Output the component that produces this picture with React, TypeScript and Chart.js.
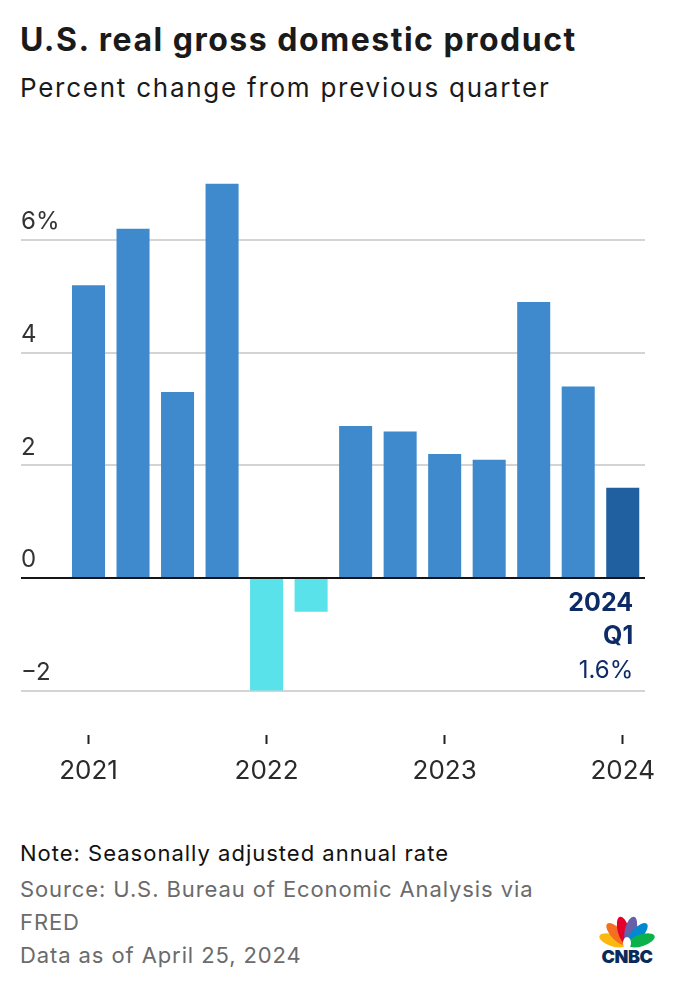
import React, { useEffect, useRef } from 'react';
import { Chart, registerables } from 'chart.js';

Chart.register(...registerables);

// ---- Data ----
const quarters = [
  'Q1 2021', 'Q2 2021', 'Q3 2021', 'Q4 2021',
  'Q1 2022', 'Q2 2022', 'Q3 2022', 'Q4 2022',
  'Q1 2023', 'Q2 2023', 'Q3 2023', 'Q4 2023',
  'Q1 2024',
];
const gdpChange = [5.2, 6.2, 3.3, 7.0, -2.0, -0.6, 2.7, 2.6, 2.2, 2.1, 4.9, 3.4, 1.6];
const yTickValues = [-2, 0, 2, 4, 6];
const latestAnnotation = ['2024', 'Q1', '1.6%'];

const FONT = 'Inter, "Noto Sans", sans-serif';
const BLUE = '#3f8acc';
const CYAN = '#5ae2ea';
const DARK = '#2160a0';
const NAVY = '#0d2b66';

const barColors = gdpChange.map((v, i) =>
  i === gdpChange.length - 1 ? DARK : v < 0 ? CYAN : BLUE
);

const overlayPlugin = {
  id: 'overlay',
  afterDatasetsDraw(chart: any) {
    const { ctx, chartArea, scales } = chart;
    const y = scales.y;
    const y0 = y.getPixelForValue(0);
    ctx.save();
    ctx.strokeStyle = '#151515';
    ctx.lineWidth = 2;
    ctx.beginPath();
    ctx.moveTo(y.left, y0);
    ctx.lineTo(chartArea.right, y0);
    ctx.stroke();

    const meta = chart.getDatasetMeta(0);
    const bar = meta.data[meta.data.length - 1];
    const xr = bar.x + 10.5;
    ctx.fillStyle = NAVY;
    ctx.textAlign = 'right';
    ctx.textBaseline = 'middle';
    ctx.font = `bold 25px ${FONT}`;
    ctx.fillText(latestAnnotation[0], xr, y0 + 26);
    ctx.fillText(latestAnnotation[1], xr, y0 + 59);
    ctx.font = `24px ${FONT}`;
    ctx.fillText(latestAnnotation[2], xr, y0 + 93);
    ctx.restore();
  },
};

function GdpChart() {
  const ref = useRef<HTMLCanvasElement>(null);
  useEffect(() => {
    if (!ref.current) return;
    const chart = new Chart(ref.current, {
      type: 'bar',
      data: {
        labels: quarters,
        datasets: [
          {
            data: gdpChange,
            backgroundColor: barColors,
            borderWidth: 0,
            categoryPercentage: 1,
            barPercentage: 0.742,
          },
        ],
      },
      options: {
        animation: false,
        responsive: false,
        maintainAspectRatio: false,
        layout: { padding: { left: 21, right: 31, top: 30, bottom: 0 } },
        plugins: { legend: { display: false }, tooltip: { enabled: false } },
        scales: {
          x: {
            type: 'category',
            offset: true,
            afterBuildTicks: (scale: any) => {
              scale.ticks = scale.ticks.filter((t: any) => t.value % 4 === 0);
            },
            afterFit: (scale: any) => {
              scale.height = 65;
            },
            grid: {
              offset: false,
              drawOnChartArea: false,
              drawTicks: true,
              tickLength: 9,
              tickColor: '#222',
              tickWidth: 2,
            },
            border: { display: false },
            ticks: {
              autoSkip: false,
              maxRotation: 0,
              padding: 12,
              color: '#2a2a2a',
              font: { family: FONT, size: 26 },
              callback: (value: any) => String(quarters[value as number]).split(' ')[1],
            },
          },
          y: {
            type: 'linear',
            min: -2.79,
            max: 7.6,
            afterBuildTicks: (scale: any) => {
              scale.ticks = yTickValues.map((v) => ({ value: v }));
            },
            afterFit: (scale: any) => {
              scale.width = 45.25;
            },
            grid: {
              color: '#d4d4d4',
              lineWidth: 2,
              tickLength: 45.25,
              drawTicks: true,
            },
            border: { display: false },
            ticks: {
              mirror: true,
              padding: -45.25,
              labelOffset: -18,
              crossAlign: 'near',
              color: '#333',
              font: { family: FONT, size: 24 },
              callback: (value: any) => {
                const v = Number(value);
                if (v === 6) return '6%';
                if (v < 0) return '\u2212' + Math.abs(v);
                return String(v);
              },
            },
          },
        },
      },
      plugins: [overlayPlugin],
    } as any);
    return () => chart.destroy();
  }, []);
  return (
    <canvas
      ref={ref}
      width={676}
      height={680}
      style={{ position: 'absolute', left: 0, top: 120, width: 676, height: 680 }}
    />
  );
}

function CnbcLogo() {
  const feathers = [
    { color: '#fcb711', angle: -72 },
    { color: '#f37021', angle: -43 },
    { color: '#e4002b', angle: -14 },
    { color: '#6460aa', angle: 14 },
    { color: '#0089d0', angle: 43 },
    { color: '#0db14b', angle: 72 },
  ];
  return (
    <svg
      width={60}
      height={56}
      viewBox="0 0 60 56"
      style={{ position: 'absolute', left: 597, top: 910 }}
    >
      {feathers.map((f, i) => (
        <ellipse
          key={i}
          cx={30}
          cy={20}
          rx={5.8}
          ry={14}
          fill={f.color}
          transform={`rotate(${f.angle} 30 35)`}
        />
      ))}
      <ellipse cx={30} cy={33} rx={4} ry={6} fill="#fff" />
      <text
        x={30}
        y={53}
        textAnchor="middle"
        fontFamily={FONT}
        fontWeight={900}
        fontSize={18}
        fill="#0b2a5c"
        letterSpacing={-0.5}
      >
        CNBC
      </text>
    </svg>
  );
}

export default function App() {
  useEffect(() => {
    document.body.style.margin = '0';
  }, []);
  const textBase: React.CSSProperties = {
    position: 'absolute',
    left: 20,
    fontFamily: FONT,
    whiteSpace: 'nowrap',
    margin: 0,
  };
  return (
    <div
      style={{
        position: 'fixed',
        left: 0,
        top: 0,
        width: 676,
        height: 992,
        background: '#fff',
        overflow: 'hidden',
      }}
    >
      <div
        style={{
          ...textBase,
          top: 20,
          fontSize: 32,
          lineHeight: '40px',
          fontWeight: 700,
          letterSpacing: '1.5px',
          color: '#1a1a1a',
        }}
      >
        U.S. real gross domestic product
      </div>
      <div
        style={{
          ...textBase,
          top: 71,
          fontSize: 26,
          lineHeight: '34px',
          letterSpacing: '1.75px',
          color: '#1a1a1a',
        }}
      >
        Percent change from previous quarter
      </div>
      <GdpChart />
      <div
        style={{
          ...textBase,
          top: 837,
          fontSize: 22,
          lineHeight: '33.5px',
          letterSpacing: '1px',
          color: '#111',
        }}
      >
        Note: Seasonally adjusted annual rate
      </div>
      <div
        style={{
          ...textBase,
          top: 873,
          fontSize: 22,
          lineHeight: '33px',
          letterSpacing: '0.9px',
          color: '#6b6b6b',
        }}
      >
        Source: U.S. Bureau of Economic Analysis via
        <br />
        FRED
        <br />
        Data as of April 25, 2024
      </div>
      <CnbcLogo />
    </div>
  );
}
